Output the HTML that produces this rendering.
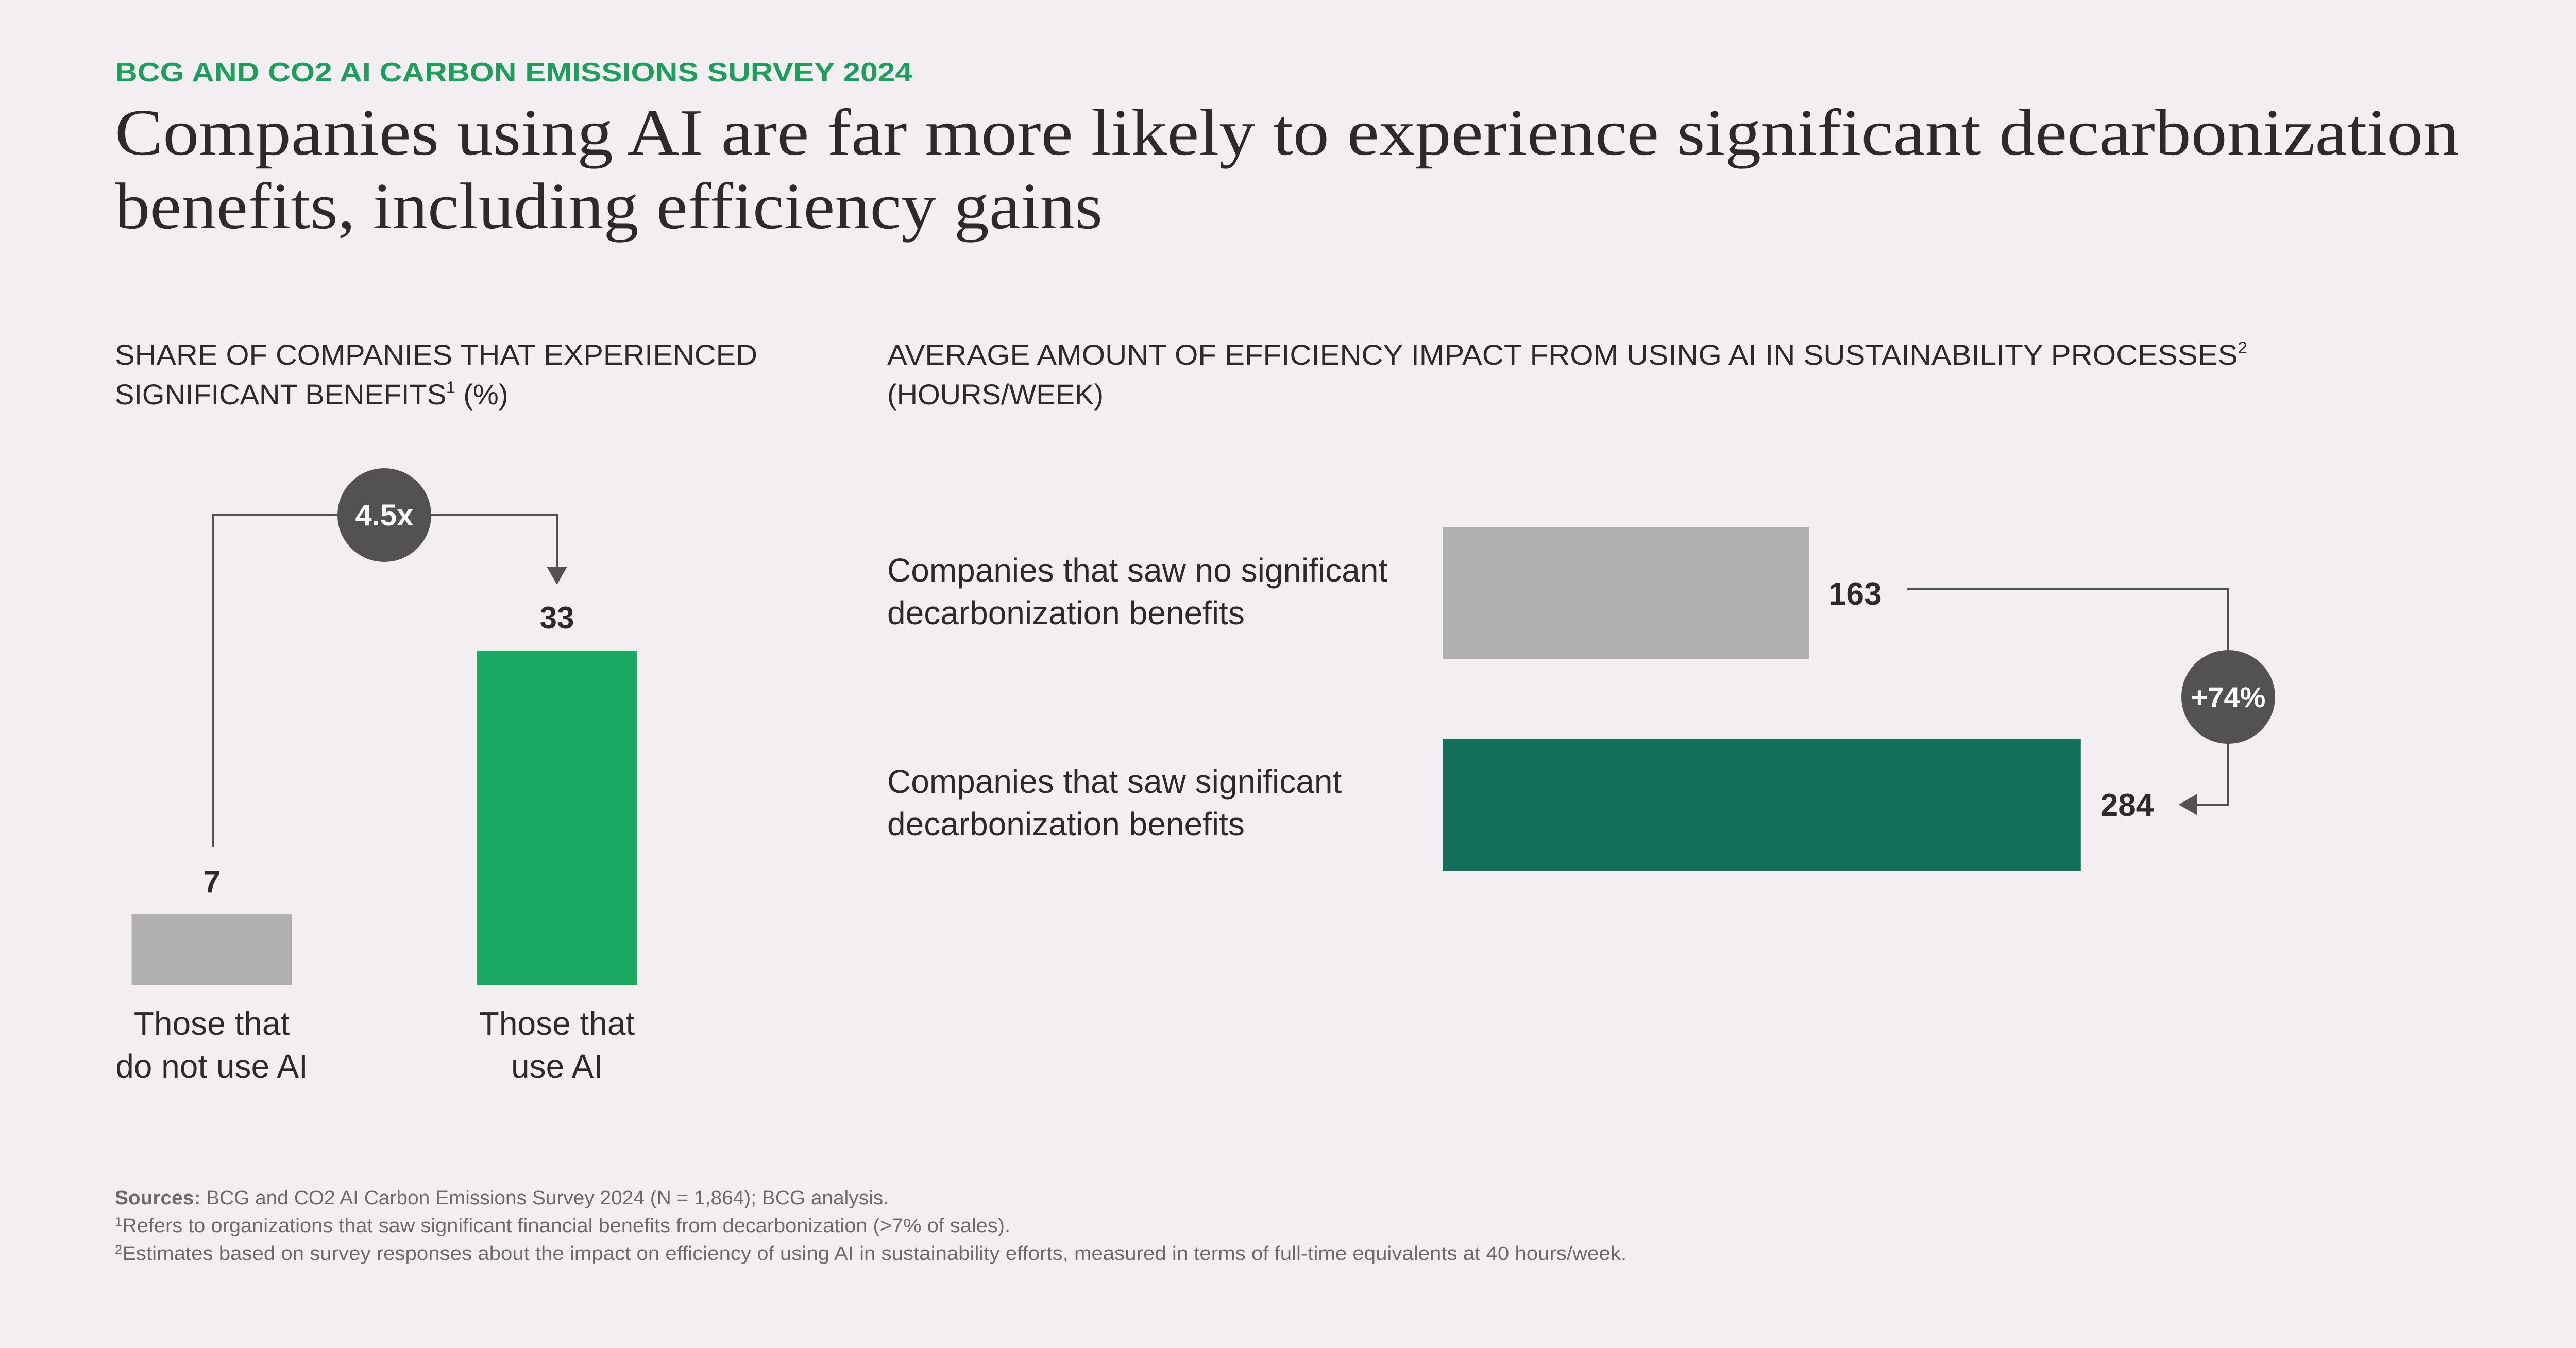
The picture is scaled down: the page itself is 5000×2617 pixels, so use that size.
<!DOCTYPE html>
<html><head><meta charset="utf-8"><style>
html,body{margin:0;padding:0;background:#f2eef2;}
svg{display:block;font-family:"Liberation Sans",sans-serif;}
</style></head><body>
<svg id="chart" width="5000" height="2617" viewBox="0 0 5000 2617" xmlns="http://www.w3.org/2000/svg">
<rect width="5000" height="2617" fill="#f2eef2"/>
<text x="223" y="158" font-size="52" font-weight="bold" fill="#1d9e5a" textLength="1548" lengthAdjust="spacingAndGlyphs">BCG AND CO2 AI CARBON EMISSIONS SURVEY 2024</text>
<text x="223" y="300" font-family="Liberation Serif, serif" font-size="128" fill="#2d292d" textLength="4550" lengthAdjust="spacingAndGlyphs">Companies using AI are far more likely to experience significant decarbonization</text>
<text x="223" y="443" font-family="Liberation Serif, serif" font-size="128" fill="#2d292d" textLength="1917" lengthAdjust="spacingAndGlyphs">benefits, including efficiency gains</text>

<text x="223" y="708" font-size="56" fill="#2d292d" textLength="1247" lengthAdjust="spacingAndGlyphs">SHARE OF COMPANIES THAT EXPERIENCED</text>
<text x="223" y="785" font-size="56" fill="#2d292d">SIGNIFICANT BENEFITS<tspan font-size="32" dy="-22">1</tspan><tspan dy="22"> (%)</tspan></text>
<text x="1722" y="708" font-size="56" fill="#2d292d" textLength="2640" lengthAdjust="spacingAndGlyphs">AVERAGE AMOUNT OF EFFICIENCY IMPACT FROM USING AI IN SUSTAINABILITY PROCESSES<tspan font-size="32" dy="-22">2</tspan></text>
<text x="1722" y="785" font-size="56" fill="#2d292d">(HOURS/WEEK)</text>

<g id="left"></g>
<g id="right"></g>

<text x="223" y="2338" font-size="38" fill="#6d6a6d" textLength="1502" lengthAdjust="spacingAndGlyphs"><tspan font-weight="bold">Sources:</tspan> BCG and CO2 AI Carbon Emissions Survey 2024 (N = 1,864); BCG analysis.</text>
<text x="223" y="2392" font-size="38" fill="#6d6a6d" textLength="1738" lengthAdjust="spacingAndGlyphs"><tspan font-size="24" dy="-12">1</tspan><tspan dy="12">Refers to organizations that saw significant financial benefits from decarbonization (&gt;7% of sales).</tspan></text>
<text x="223" y="2446" font-size="38" fill="#6d6a6d" textLength="2934" lengthAdjust="spacingAndGlyphs"><tspan font-size="24" dy="-12">2</tspan><tspan dy="12">Estimates based on survey responses about the impact on efficiency of using AI in sustainability efforts, measured in terms of full-time equivalents at 40 hours/week.</tspan></text>
</svg>
<script>
const leftCategories = [["Those that","do not use AI"],["Those that","use AI"]];
const leftValues = [7, 33];
const leftColors = ["#b1afb1", "#1aa862"];
const rightCategories = [["Companies that saw no significant","decarbonization benefits"],["Companies that saw significant","decarbonization benefits"]];
const rightValues = [163, 284];
const rightColors = ["#b1afb1", "#136f5a"];
const leftBadge = "4.5x";
const rightBadge = "+74%";

const NS = "http://www.w3.org/2000/svg";
function mk(parent, tag, attrs, text){
  const el = document.createElementNS(NS, tag);
  for (const k in attrs) el.setAttribute(k, attrs[k]);
  if (text !== undefined) el.textContent = text;
  parent.appendChild(el);
  return el;
}
const INK = "#2d292d", LINE = "#545155";

// Left chart
const L = document.getElementById("left");
const baseY = 1913, pxPerPct = 650/33;
const yL = v => baseY - v*pxPerPct;
const leftCenters = [411, 1081], barW = 311;
leftValues.forEach((v,i)=>{
  const r = mk(L,"rect",{x:leftCenters[i]-barW/2,y:yL(v),width:barW,height:baseY-yL(v),fill:leftColors[i]});
  
  
  const t = mk(L,"text",{x:leftCenters[i],y:yL(v)-43,"font-size":60,"font-weight":"bold",fill:INK,"text-anchor":"middle"}, String(v));
  
  
  leftCategories[i].forEach((ln,j)=>{
    const c = mk(L,"text",{x:leftCenters[i],y:2009+j*83,"font-size":64,fill:INK,"text-anchor":"middle"}, ln);
    
    
  });
});
const topLineY = 1000;
const lp = mk(L,"path",{d:`M${leftCenters[0]+2} ${yL(leftValues[0])-130} V${topLineY} H${leftCenters[1]} V${yL(leftValues[1])-135}`,fill:"none",stroke:LINE,"stroke-width":4});


const la = mk(L,"path",{d:`M${leftCenters[1]-20} ${yL(leftValues[1])-163} L${leftCenters[1]+20} ${yL(leftValues[1])-163} L${leftCenters[1]} ${yL(leftValues[1])-128} Z`,fill:LINE});


const lc = mk(L,"circle",{cx:746,cy:topLineY,r:91,fill:LINE});


const lt = mk(L,"text",{x:746,y:topLineY+20,"font-size":58,"font-weight":"bold",fill:"#fff","text-anchor":"middle"}, leftBadge);



// Right chart
const R = document.getElementById("right");
const x0 = 2800, pxPerHr = 711/163;
const xR = v => x0 + v*pxPerHr;
const rowTops = [1024, 1434], barH = 256;
rightValues.forEach((v,i)=>{
  const r = mk(R,"rect",{x:x0,y:rowTops[i],width:xR(v)-x0,height:barH,fill:rightColors[i]});
  
  
  const t = mk(R,"text",{x:xR(v)+38,y:rowTops[i]+150,"font-size":62,"font-weight":"bold",fill:INK}, String(v));
  
  
  rightCategories[i].forEach((ln,j)=>{
    const c = mk(R,"text",{x:1722,y:rowTops[i]+105+j*83,"font-size":64,fill:INK}, ln);
    
    
  });
});
const cx = 4325;
const y1 = rowTops[0]+120, y2 = rowTops[1]+128;
const rp = mk(R,"path",{d:`M${xR(rightValues[0])+191} ${y1} H${cx} V${y2} H${xR(rightValues[1])+225}`,fill:"none",stroke:LINE,"stroke-width":4});


const ra = mk(R,"path",{d:`M${xR(rightValues[1])+190} ${y2} L${xR(rightValues[1])+226} ${y2-21} L${xR(rightValues[1])+226} ${y2+21} Z`,fill:LINE});


const rc = mk(R,"circle",{cx:cx,cy:1353,r:91,fill:LINE});


const rt = mk(R,"text",{x:cx,y:1373,"font-size":56,"font-weight":"bold",fill:"#fff","text-anchor":"middle"}, rightBadge);


</script>
</body></html>
